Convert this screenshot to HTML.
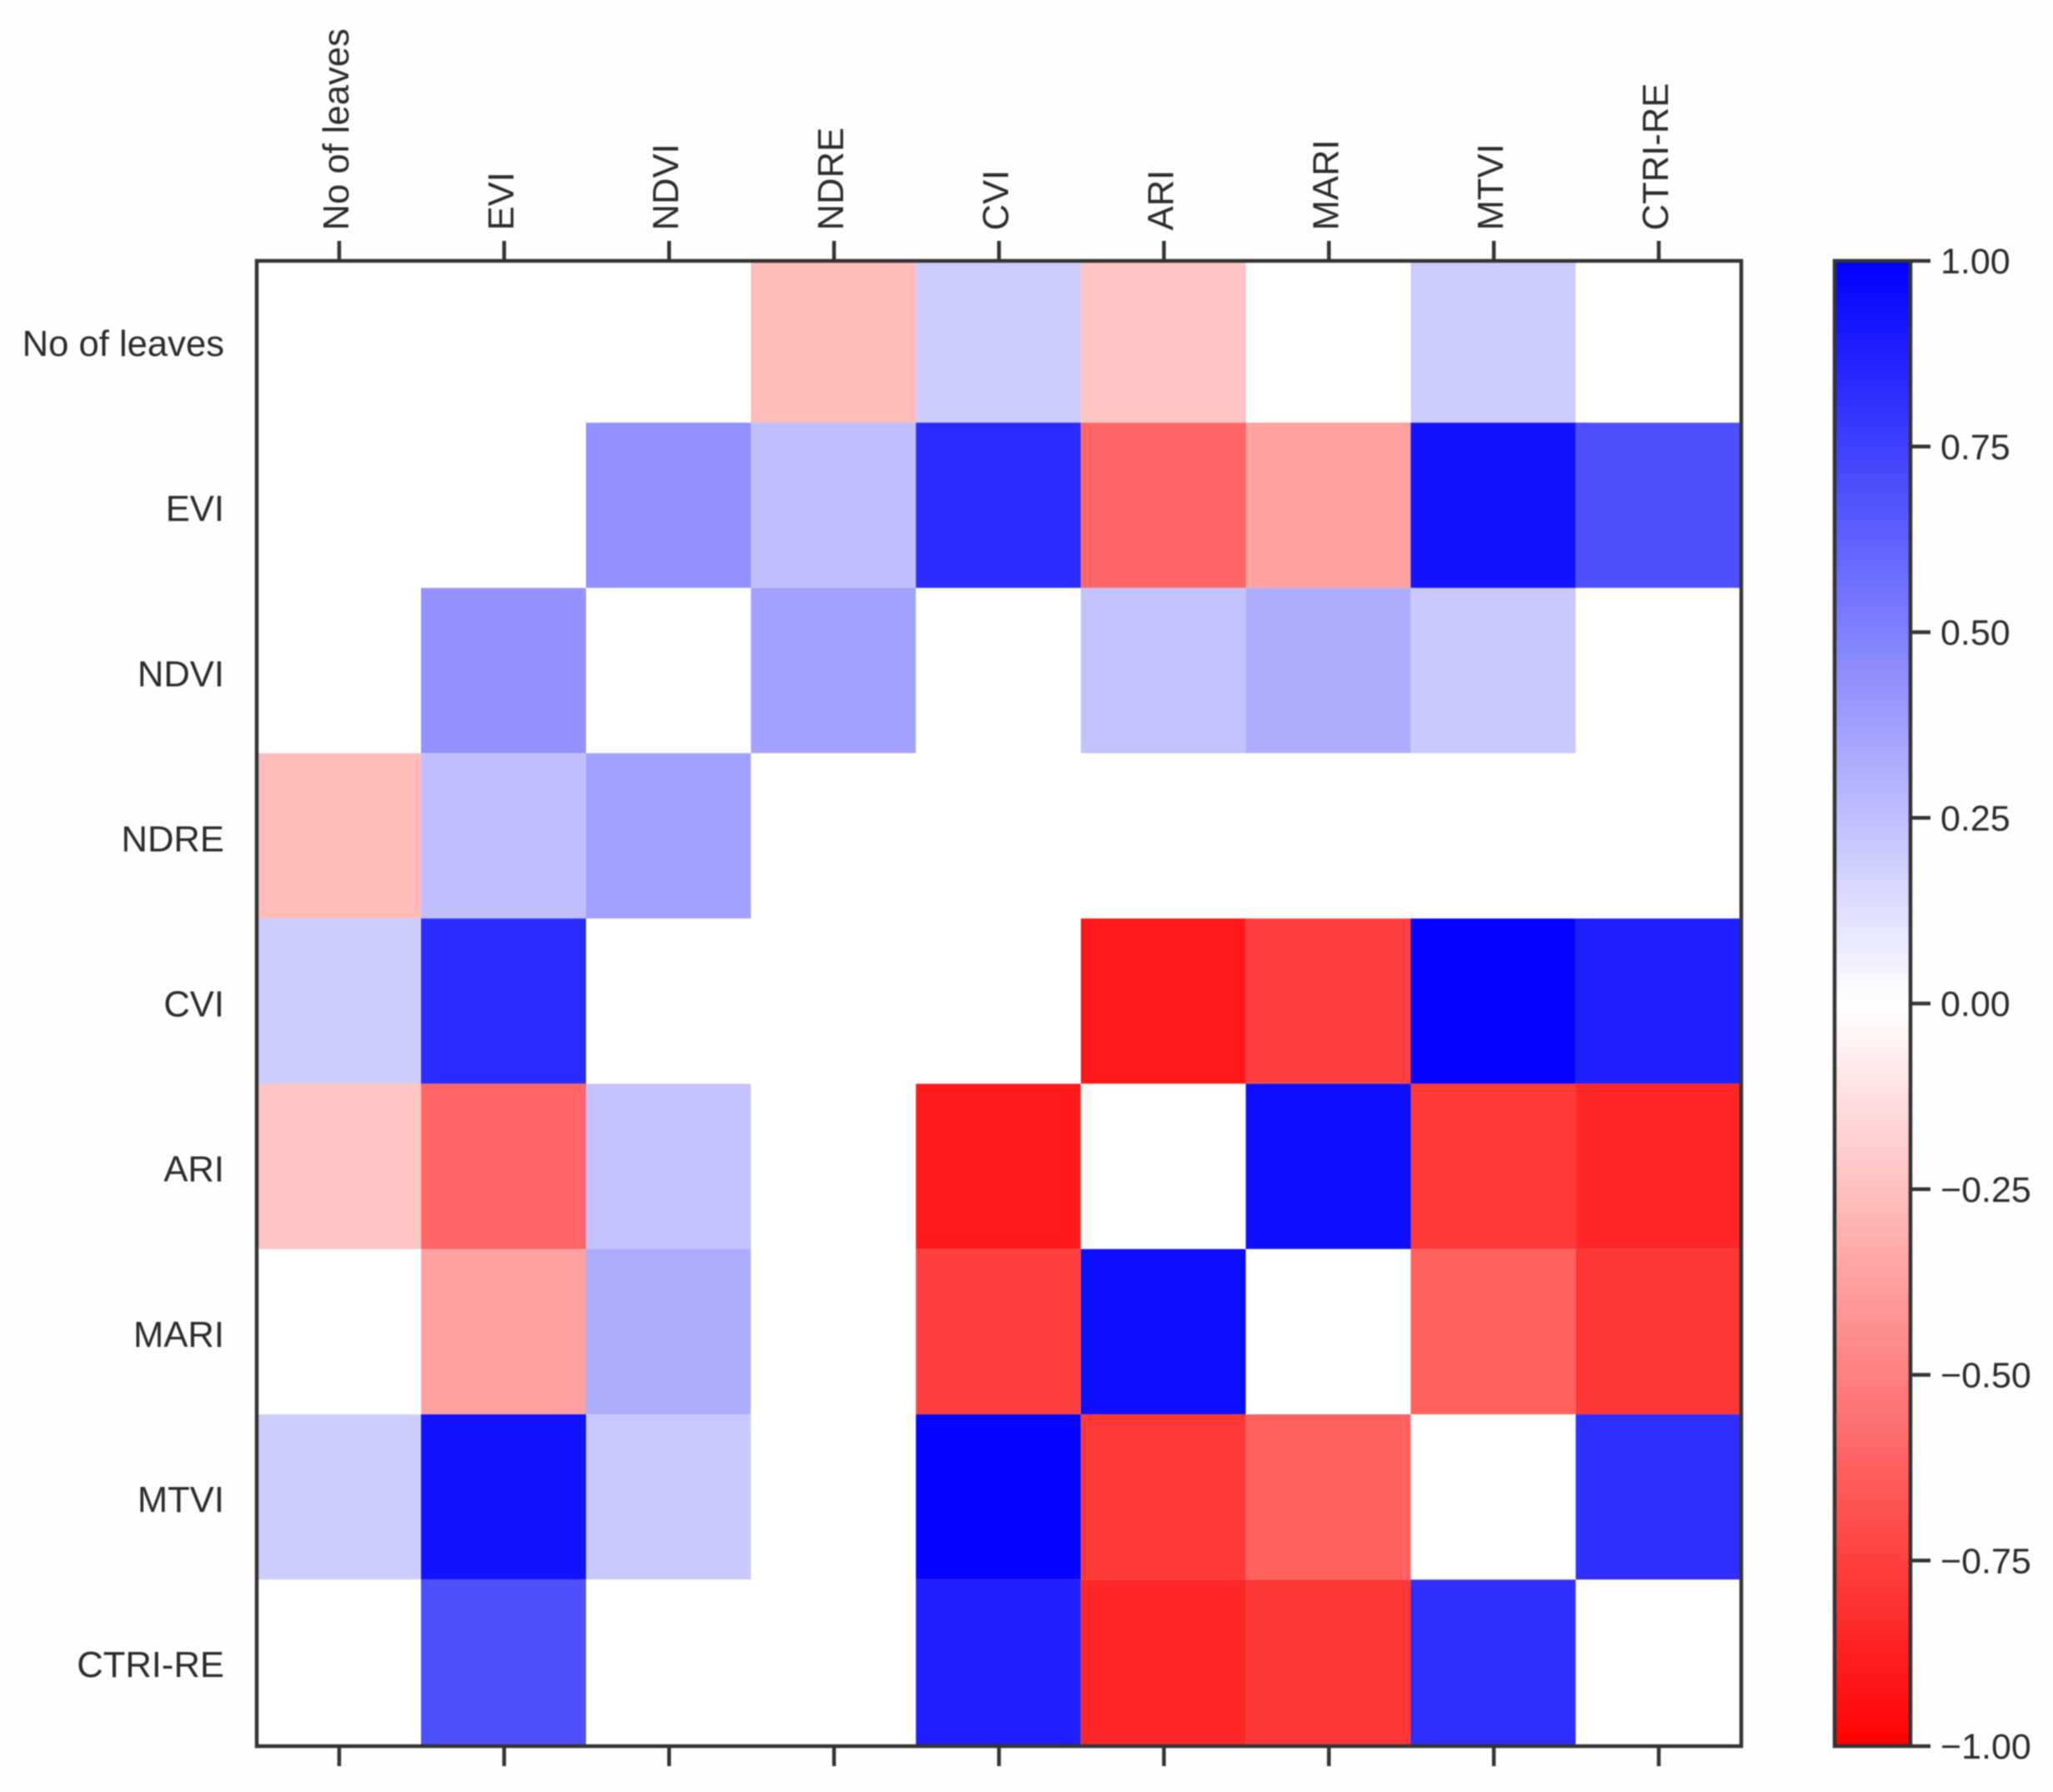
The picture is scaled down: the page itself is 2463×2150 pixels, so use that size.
<!DOCTYPE html>
<html lang="en">
<head>
<meta charset="utf-8">
<title>Correlation heatmap</title>
<style>
html,body{margin:0;padding:0;background:#fefefe;}
#chart{display:block;width:2463px;height:2150px;filter:blur(0.8px);}
text{font-family:"Liberation Sans",Arial,sans-serif;font-size:43px;fill:#2b2b2b;}
text.axis-text{font-size:43.6px;}
</style>
</head>
<body>
<svg id="chart" xmlns="http://www.w3.org/2000/svg" width="2463" height="2150" viewBox="0 0 2463 2150">
<defs>
<linearGradient id="bwr" x1="0" y1="0" x2="0" y2="1">
<stop offset="0" stop-color="#0000ff"/>
<stop offset="0.5" stop-color="#ffffff"/>
<stop offset="1" stop-color="#ff0000"/>
</linearGradient>
<clipPath id="plot-clip"><rect x="308" y="313" width="1781" height="1782"/></clipPath>
</defs>
<g id="cells" clip-path="url(#plot-clip)"></g>
</svg>
<script>
const categories = ["No of leaves","EVI","NDVI","NDRE","CVI","ARI","MARI","MTVI","CTRI-RE"];
const row0 = [0,0,0,-0.27,0.2,-0.23,0,0.2,0];
const row1 = [0,0,0.43,0.25,0.83,-0.6,-0.37,0.93,0.69];
const row2 = [0,0.43,0,0.37,0,0.24,0.32,0.21,0];
const row3 = [-0.27,0.25,0.37,0,0,0,0,0,0];
const row4 = [0.2,0.83,0,0,0,-0.9,-0.75,0.98,0.88];
const row5 = [-0.23,-0.6,0.24,0,-0.9,0,0.95,-0.78,-0.85];
const row6 = [0,-0.37,0.32,0,-0.75,0.95,0,-0.62,-0.79];
const row7 = [0.2,0.93,0.21,0,0.98,-0.78,-0.62,0,0.82];
const row8 = [0,0.69,0,0,0.88,-0.85,-0.79,0.82,0];
const matrix = [row0,row1,row2,row3,row4,row5,row6,row7,row8];
const colorbarTicks = [1,0.75,0.5,0.25,0,-0.25,-0.5,-0.75,-1];

const svg = document.getElementById('chart');
const cellsGroup = document.getElementById('cells');
const NS = 'http://www.w3.org/2000/svg';
const plotL = 308, plotR = 2089, plotT = 313, plotB = 2095;
const gridL = 307.2, gridT = 308.8, gridDX = 197.9, gridDY = 198.3;
const cbL = 2201, cbR = 2292;
const axisColor = '#333333', axisW = 4.5;
const xTick = i => plotL + (plotR - plotL) * (i + 0.5) / categories.length;
const yTick = i => gridT + gridDY * (i + 0.5);
const xEdge = i => gridL + gridDX * i;
const yEdge = i => gridT + gridDY * i;
const cbY = v => plotT + (plotB - plotT) * (1 - v) / 2;
function bwr(v){
  const t = Math.max(-1, Math.min(1, v));
  const c = Math.round(255 * (1 - Math.abs(t)));
  return t >= 0 ? `rgb(${c},${c},255)` : `rgb(255,${c},${c})`;
}
function make(tag, attrs, parent){
  const el = document.createElementNS(NS, tag);
  for (const k in attrs) el.setAttribute(k, attrs[k]);
  (parent || svg).appendChild(el);
  return el;
}
function fmt(v){
  return (v < 0 ? '\u2212' : '') + Math.abs(v).toFixed(2);
}

const plotBg = make('rect', {x:plotL,y:plotT,width:plotR-plotL,height:plotB-plotT,fill:'#ffffff'}, cellsGroup);



matrix.forEach((row, r) => {
  row.forEach((val, c) => {
    const cell = make('rect', {
      x: xEdge(c), y: yEdge(r),
      width: gridDX, height: gridDY,
      fill: bwr(val)
    }, cellsGroup);
    
    
  });
});

const frame = make('rect', {x:plotL,y:plotT,width:plotR-plotL,height:plotB-plotT,fill:'none',stroke:axisColor,'stroke-width':axisW});



categories.forEach((name, i) => {
  const cx = xTick(i);
  const cy = (plotT + (plotB - plotT) * (i + 0.5) / categories.length + yTick(i)) / 2;

  const topTick = make('line', {x1:cx,x2:cx,y1:plotT,y2:plotT-24,stroke:axisColor,'stroke-width':axisW});
  
  

  const bottomTick = make('line', {x1:cx,x2:cx,y1:plotB,y2:plotB+24,stroke:axisColor,'stroke-width':axisW});
  
  

  const bx = cx + 11, by = 276.5;
  const xLabel = make('text', {class:'axis-text',x:bx,y:by,transform:`rotate(-90 ${bx} ${by})`,'text-anchor':'start'});
  xLabel.textContent = name;
  
  

  const yLabel = make('text', {class:'axis-text',x:269,y:cy+17,'text-anchor':'end'});
  yLabel.textContent = name;
  
  
});

const cbRect = make('rect', {x:cbL,y:plotT,width:cbR-cbL,height:plotB-plotT,fill:'url(#bwr)',stroke:axisColor,'stroke-width':axisW});



colorbarTicks.forEach(v => {
  const y = cbY(v);
  const tick = make('line', {x1:cbR,x2:cbR+24,y1:y,y2:y,stroke:axisColor,'stroke-width':axisW});
  
  

  const label = make('text', {x:2328,y:y+15,'text-anchor':'start'});
  label.textContent = fmt(v);
  
  
});
</script>
</body>
</html>
